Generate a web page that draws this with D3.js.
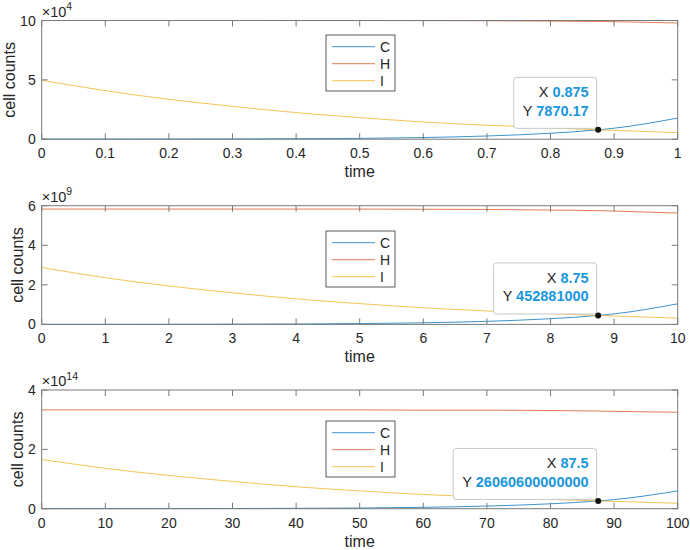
<!DOCTYPE html>
<html>
<head>
<meta charset="utf-8">
<script src="https://cdn.jsdelivr.net/npm/d3@7"></script>
<style>
  body { margin: 0; background: #fff; }
  text { font-family: "Liberation Sans", Arial, sans-serif; fill: #262626; }
</style>
</head>
<body>
<script>
const WIDTH = 690;
const HEIGHT = 550;

// time samples of the three runs
const time1 = [0, 0.1, 0.2, 0.3, 0.4, 0.5, 0.6, 0.7, 0.8, 0.875, 0.9, 1];
const time2 = [0, 1, 2, 3, 4, 5, 6, 7, 8, 8.75, 9, 10];
const time3 = [0, 10, 20, 30, 40, 50, 60, 70, 80, 87.5, 90, 100];

// run 1
const C1 = [28, 54, 102, 194, 369, 703, 1400, 2700, 5000, 7870.17, 9245, 17800];
const H1 = [1e5, 1e5, 1e5, 1e5, 0.9998e5, 0.9995e5, 0.999e5, 0.998e5, 0.995e5, 0.992e5, 0.990e5, 0.979e5];
const I1 = [4.96e4, 4.09e4, 3.36e4, 2.77e4, 2.24e4, 1.82e4, 1.45e4, 1.18e4, 0.95e4, 0.787e4, 0.74e4, 0.55e4];

// run 2
const C2 = [1.6e6, 3.1e6, 5.9e6, 1.1e7, 2.1e7, 4.0e7, 8.1e7, 1.55e8, 2.88e8, 4.52881e8, 5.32e8, 1.04e9];
const H2 = [5.83e9, 5.83e9, 5.83e9, 5.83e9, 5.83e9, 5.83e9, 5.82e9, 5.81e9, 5.78e9, 5.75e9, 5.73e9, 5.63e9];
const I2 = [2.88e9, 2.36e9, 1.94e9, 1.60e9, 1.29e9, 1.05e9, 0.84e9, 0.68e9, 0.547e9, 0.4529e9, 0.426e9, 0.317e9];

// run 3
const C3 = [9.4e10, 1.8e11, 3.4e11, 6.4e11, 1.22e12, 2.32e12, 4.6e12, 8.9e12, 1.65e13, 2.6061e13, 3.06e13, 6.0e13];
const H3 = [3.33e14, 3.33e14, 3.33e14, 3.33e14, 3.33e14, 3.33e14, 3.32e14, 3.32e14, 3.31e14, 3.29e14, 3.28e14, 3.25e14];
const I3 = [1.66e14, 1.36e14, 1.12e14, 0.92e14, 0.74e14, 0.60e14, 0.48e14, 0.39e14, 0.315e14, 0.2606e14, 0.246e14, 0.183e14];

// axes
const xTicks1 = [0, 0.1, 0.2, 0.3, 0.4, 0.5, 0.6, 0.7, 0.8, 0.9, 1];
const xTicks2 = [0, 1, 2, 3, 4, 5, 6, 7, 8, 9, 10];
const xTicks3 = [0, 10, 20, 30, 40, 50, 60, 70, 80, 90, 100];
const yTicks1 = [0, 5e4, 10e4];
const yTicks2 = [0, 2e9, 4e9, 6e9];
const yTicks3 = [0, 2e14, 4e14];
const exponents = [4, 9, 14];

// data tips
const tipX = [0.875, 8.75, 87.5];
const tipY = [7870.17, 452881000, 26060600000000];
const tipXText = ["0.875", "8.75", "87.5"];
const tipYText = ["7870.17", "452881000", "26060600000000"];

const seriesNames = ["C", "H", "I"];
const colors = ["#0072BD", "#D95319", "#EDB120"];

const panels = [
  { time: time1, series: [C1, H1, I1], xTicks: xTicks1, yTicks: yTicks1, top: 20.5, legTop: 35 },
  { time: time2, series: [C2, H2, I2], xTicks: xTicks2, yTicks: yTicks2, top: 205.7, legTop: 231 },
  { time: time3, series: [C3, H3, I3], xTicks: xTicks3, yTicks: yTicks3, top: 390, legTop: 421 }
];

const left = 41.7, right = 677.7, plotH = 118.7;

let svg = d3.select('body').append('svg')
  .attr('width', WIDTH)
  .attr('height', HEIGHT);

panels.forEach((p, k) => {
  const exp = exponents[k];
  const x = d3.scaleLinear()
    .domain(d3.extent(p.xTicks))
    .range([left, right]);
  const y = d3.scaleLinear()
    .domain([0, d3.max(p.yTicks)])
    .range([p.top + plotH, p.top]);

  let g = svg.append('g');

  // lines
  const line = d3.line()
    .x((d, i) => x(p.time[i]))
    .y(d => y(d))
    .curve(d3.curveMonotoneX);
  p.series.forEach((s, j) => {
    g.append('path')
      .attr('d', line(s))
      .attr('fill', 'none')
      .attr('stroke', colors[j])
      .attr('stroke-opacity', 0.85)
      .attr('stroke-width', 0.9);
  });

  // box + inward ticks
  const tickLen = 6;
  g.append('rect')
    .attr('x', left).attr('y', p.top)
    .attr('width', right - left).attr('height', plotH)
    .attr('fill', 'none').attr('stroke', '#7a7a7a').attr('stroke-width', 1);

  p.xTicks.forEach(t => {
    g.append('line').attr('x1', x(t)).attr('x2', x(t))
      .attr('y1', p.top + plotH).attr('y2', p.top + plotH - tickLen)
      .attr('stroke', '#7a7a7a');
    g.append('line').attr('x1', x(t)).attr('x2', x(t))
      .attr('y1', p.top).attr('y2', p.top + tickLen)
      .attr('stroke', '#7a7a7a');
    g.append('text')
      .attr('x', x(t)).attr('y', p.top + plotH + 19)
      .attr('text-anchor', 'middle')
      .attr('font-size', 14)
      .text(String(t));
  });

  p.yTicks.forEach(t => {
    g.append('line').attr('x1', left).attr('x2', left + tickLen)
      .attr('y1', y(t)).attr('y2', y(t)).attr('stroke', '#7a7a7a');
    g.append('line').attr('x1', right).attr('x2', right - tickLen)
      .attr('y1', y(t)).attr('y2', y(t)).attr('stroke', '#7a7a7a');
    g.append('text')
      .attr('x', left - 6).attr('y', y(t) + 5)
      .attr('text-anchor', 'end')
      .attr('font-size', 14)
      .text(String(Math.round(t / Math.pow(10, exp))));
  });

  // exponent label
  let ex = g.append('text')
    .attr('x', left).attr('y', p.top - 4)
    .attr('font-size', 14.5);
  ex.append('tspan').text('×10');
  ex.append('tspan').attr('dy', -6.5).attr('font-size', 10.5).text(String(exp));

  // axis labels
  g.append('text')
    .attr('x', (left + right) / 2).attr('y', p.top + plotH + 38)
    .attr('text-anchor', 'middle')
    .attr('font-size', 16)
    .text('time');
  g.append('text')
    .attr('transform', `translate(${k === 0 ? 15 : 23},${p.top + plotH / 2}) rotate(-90)`)
    .attr('text-anchor', 'middle')
    .attr('font-size', 16)
    .text('cell counts');

  // legend
  let leg = g.append('g').attr('transform', `translate(326,${p.legTop})`);
  leg.append('rect')
    .attr('width', 69).attr('height', 56)
    .attr('fill', '#fff').attr('stroke', '#333').attr('stroke-width', 0.8);
  seriesNames.forEach((n, j) => {
    const ly = 11.7 + j * 17;
    leg.append('line').attr('x1', 6).attr('x2', 49)
      .attr('y1', ly).attr('y2', ly)
      .attr('stroke', colors[j]).attr('stroke-opacity', 0.85).attr('stroke-width', 0.9);
    leg.append('text').attr('x', 54).attr('y', ly + 5)
      .attr('font-size', 14).text(n);
  });

  // data tip
  const mx = x(tipX[k]), my = y(tipY[k]);
  let tip = g.append('g');
  let box = tip.append('rect')
    .attr('fill', '#fff').attr('stroke', '#c8c8c8').attr('stroke-width', 1)
    .attr('rx', 3);
  const tx = mx - 9.5;
  const rows = [["X ", tipXText[k]], ["Y ", tipYText[k]]];
  let widths = [];
  rows.forEach((r, j) => {
    let t = tip.append('text')
      .attr('x', tx).attr('y', my - 32.5 + j * 18.5)
      .attr('text-anchor', 'end')
      .attr('font-size', 14.5);
    t.append('tspan').text(r[0]);
    t.append('tspan').attr('font-weight', 'bold').style('fill', '#1996e0').text(r[1]);
    widths.push(t.node().getComputedTextLength());
  });
  const bw = d3.max(widths) + 17;
  box.attr('x', mx - 1.6 - bw).attr('y', my - 52.5)
    .attr('width', bw).attr('height', 51);
  tip.append('circle')
    .attr('cx', mx).attr('cy', my).attr('r', 3)
    .attr('fill', '#111');
});
</script>
</body>
</html>
